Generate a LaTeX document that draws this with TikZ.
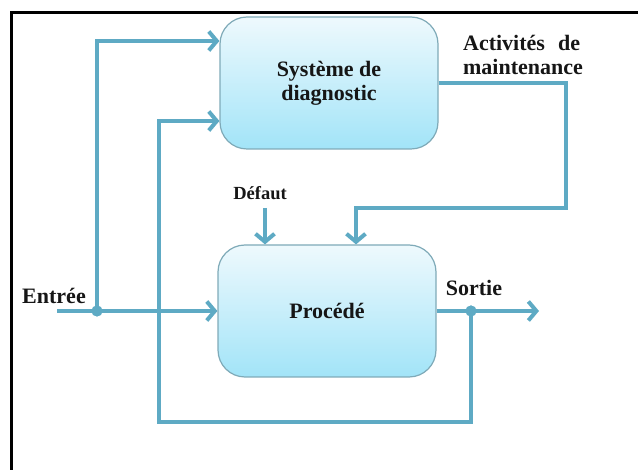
\documentclass[tikz,border=0pt]{standalone}
\usepackage{fontspec}
\setmainfont{Liberation Serif}
\usetikzlibrary{arrows.meta}
\definecolor{flowc}{HTML}{5EAAC4}
\definecolor{boxedge}{HTML}{7FAAB8}
\definecolor{boxtop}{HTML}{EEF9FD}
\definecolor{boxbot}{HTML}{A2E4F8}
\definecolor{ink}{HTML}{161616}
\begin{document}
\begin{tikzpicture}[x=1pt,y=-1pt,
  block/.style={draw=boxedge, line width=1.2pt, rounded corners=27pt,
    top color=boxtop, bottom color=boxbot,
    minimum width=218pt, minimum height=132pt, align=center,
    font=\bfseries\fontsize{22}{24}\selectfont, text=ink},
  lbl/.style={font=\bfseries\fontsize{22}{24}\selectfont, text=ink, inner sep=0pt, align=center},
  small/.style={font=\bfseries\fontsize{18.5}{21}\selectfont, text=ink, inner sep=0pt},
  flow/.style={draw=flowc, line width=4pt, line join=miter,
    -{Straight Barb[length=8pt,width=19pt]}},
  dot/.style={circle, fill=flowc, inner sep=0pt, minimum size=11pt}]
\useasboundingbox (0,0) rectangle (638,470);

% frame on the top and left sides
\draw[line width=3.5pt] (11.5,470) -- (11.5,12.5) -- (638,12.5);

% blocks
\node[block] (sys) at (329,83) {Système de\\diagnostic};
\node[block] (proc) at (327,311) {Procédé};

% labels
\node[lbl] (entree) at (54,296) {Entrée};
\node[lbl] (sortie) at (474,288) {Sortie};
\node[lbl, align=left] (act) at (523,55) {\makebox[117pt][s]{Activités de}\\maintenance};
\node[small] (def) at (260,193) {Défaut};

% junctions and free ends
\node[dot] (j1) at (97,311) {};
\node[dot] (j2) at (471,311) {};
\coordinate (in) at (57,311);
\coordinate (out) at (539,311);
\coordinate (fb1) at (471,422);
\coordinate (fb2) at (159,422);
\coordinate (m1) at (566,83);
\coordinate (m2) at (566,208);
\coordinate (m3) at (356,208);
\coordinate (d0) at (265,208);

% input and output
\draw[flow] (in) -- (proc.west);
\draw[flow] (proc.east) -- (out);

% input branch to the diagnostic system
\draw[flow] (j1.center) |- ([yshift=42pt]sys.west);

% output fed back to the diagnostic system
\draw[flow] (j2.center) -- (fb1) -- (fb2) |- ([yshift=-38pt]sys.west);

% maintenance activities to the process
\draw[flow] (sys.east) -- (m1) -- (m2) -- (m3) -- ([xshift=29pt]proc.north);

% fault entering the process
\draw[flow] (d0) -- ([xshift=-62pt]proc.north);

% redraw dots on top of the wires
\node[dot] at (j1) {};
\node[dot] at (j2) {};
\end{tikzpicture}
\end{document}
